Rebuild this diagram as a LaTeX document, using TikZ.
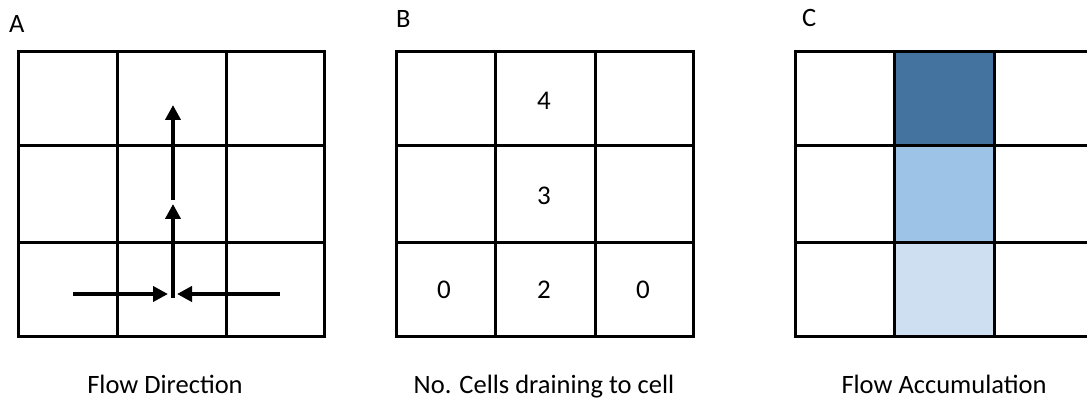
\documentclass[tikz,border=0pt]{standalone}
\usepackage{fontspec}
\setmainfont{Carlito}
\usetikzlibrary{arrows.meta,positioning}
\definecolor{deep}{HTML}{45739F}
\definecolor{mid}{HTML}{9DC3E6}
\definecolor{pale}{HTML}{CEDFF2}
\tikzset{gridline/.style={draw=black,line width=3pt,line cap=rect},
cellnum/.style={font=\fontsize{27}{32}\selectfont,inner sep=0pt},
panellabel/.style={font=\fontsize{26.5}{32}\selectfont,inner sep=0pt,anchor=base west},
caption/.style={font=\fontsize{26.5}{32}\selectfont,inner sep=0pt,anchor=base},
flowarrow/.style={line width=4.8pt,-{Triangle[length=15pt,width=15pt]}}}

\begin{document}
\begin{tikzpicture}[x=1pt,y=-1pt]
\useasboundingbox (0,0) rectangle (1087,398);
\clip (0,0) rectangle (1087,398);
% shaded cells of panel C
\fill[deep] (894,52) rectangle (994,146);
\fill[mid] (894,146) rectangle (994,243);
\fill[pale] (894,243) rectangle (994,336);
% the three 3x3 grids
\foreach \xa/\xb/\xc/\xd in {18/117/226/324,396/495/595/693,795/894/994/1093}{
  \foreach \y in {52,146,243,336}{\draw[gridline] (\xa,\y)--(\xd,\y);}
  \foreach \x in {\xa,\xb,\xc,\xd}{\draw[gridline] (\x,52)--(\x,336);}
}
% panel letters
\node[panellabel] (labA) at (9,33) {A};
\node[panellabel] (labB) at (396,28) {B};
\node[panellabel] (labC) at (802,27) {C};
% flow direction arrows
\coordinate (west) at (73,294);
\coordinate (east) at (280,294);
\coordinate (sinkW) at (168,294);
\coordinate (sinkE) at (177,294);
\coordinate (low) at (173,298);
\coordinate (midtip) at (173,204);
\coordinate (midtail) at (173,200);
\coordinate (toptip) at (173,105);
\foreach \u/\v in {west/sinkW,east/sinkE,low/midtip,midtail/toptip}{\draw[flowarrow] (\u)--(\v);}
% cell counts
\node[cellnum] (b12) at (544,101) {4};
\node[cellnum] (b22) at (544,196) {3};
\node[cellnum] (b31) at (444,290) {0};
\node[cellnum] (b32) at (544,290) {2};
\node[cellnum] (b33) at (643,290) {0};
% captions
\node[caption] (capA) at (165,393) {Flow Direction};
\node[caption] (capB) at (544,393) {No. Cells draining to cell};
\node[caption] (capC) at (944,393) {Flow Accumulation};
\end{tikzpicture}
\end{document}
